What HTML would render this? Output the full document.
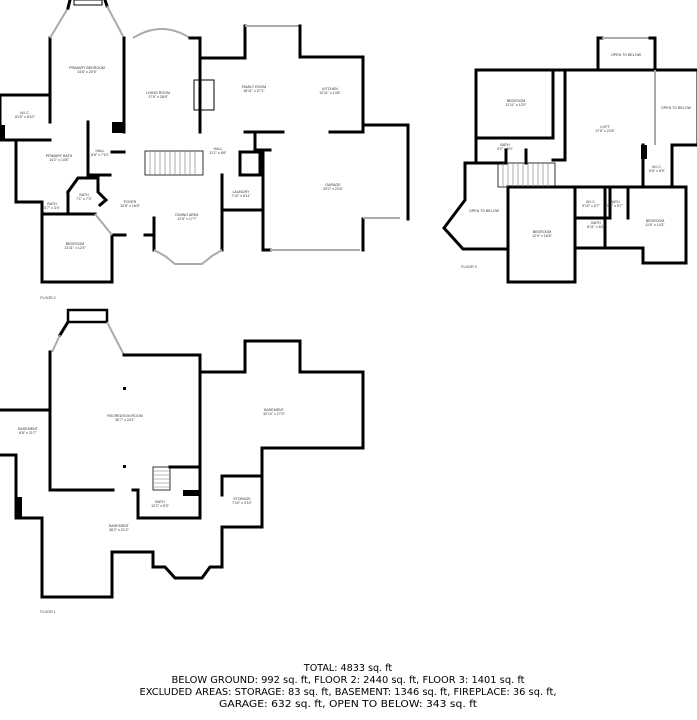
<!DOCTYPE html>
<html><head><meta charset="utf-8"><style>
html,body{margin:0;padding:0;background:#fff;}
svg{display:block;}
.w{fill:none;stroke:#000;stroke-width:3;stroke-linecap:square;stroke-linejoin:miter;}
.t{fill:none;stroke:#000;stroke-width:1.5;}
.g{fill:none;stroke:#aaa;stroke-width:2;}
.s{fill:none;stroke:#777;stroke-width:0.6;}
.l{font-family:"Liberation Sans",sans-serif;font-size:3.6px;fill:#333;text-anchor:middle;}
.b{font-family:"DejaVu Sans","Liberation Sans",sans-serif;font-size:9.6px;fill:#000;text-anchor:middle;}
</style></head><body>
<svg width="697" height="720" viewBox="0 0 697 720" xmlns="http://www.w3.org/2000/svg">
<!-- FLOOR 2 -->
<g>
<polyline class="w" points="50,122 50,38"/>
<polyline class="g" points="50,38 68,8"/>
<polyline class="w" points="68,8 70,0"/>
<polyline class="w" points="105,0 107,6"/>
<polyline class="g" points="107,6 123,36"/>
<rect x="74" y="0" width="28" height="5" fill="none" stroke="#000" stroke-width="1"/>
<polyline class="w" points="124,38 124,132"/>
<rect x="112" y="122" width="13" height="11" fill="#000"/>
<path class="g" d="M133,38 Q162,20 190,38"/>
<polyline class="w" points="190,38 200,38 200,132"/>
<rect x="194" y="80" width="20" height="30" fill="none" stroke="#000" stroke-width="1"/>
<polyline class="w" points="200,58 245,58 245,26"/>
<polyline class="g" points="245,26 300,26"/>
<polyline class="w" points="300,26 300,57 363,57 363,132 330,132"/>
<polyline class="w" points="200,132 200,118"/>
<polyline class="w" points="245,132 283,132"/>
<polyline class="w" points="363,125 408,125 408,219"/>
<polyline class="w" points="363,219 363,250"/>
<polyline class="g" points="363,218 400,218"/>
<polyline class="w" points="263,250 270,250"/>
<polyline class="g" points="270,250 360,250"/>
<polyline class="w" points="263,150 263,250"/>
<polyline class="w" points="255,132 255,150 270,150"/>
<polyline class="w" points="240,152 260,152 260,175 240,175 240,152"/>
<polyline class="w" points="222,175 222,250"/>
<polyline class="w" points="222,210 262,210"/>
<!-- left side -->
<polyline class="w" points="0,95 50,95"/>
<polyline class="w" points="0,95 0,140 50,140"/>
<rect x="0" y="125" width="5" height="15" fill="#000"/>
<polyline class="w" points="16,140 16,202 42,202"/>
<polyline class="w" points="88,122 88,175"/>
<polyline class="w" points="88,175 110,175"/>
<polyline class="w" points="68,192 78,178 98,178 98,192 106,200 100,205"/>
<polyline class="w" points="68,192 68,214"/>
<polyline class="w" points="42,202 42,282 112,282 112,235"/>
<polyline class="w" points="42,214 95,214"/>
<polyline class="g" points="95,214 112,235"/>
<polyline class="w" points="112,152 124,152"/>
<polyline class="w" points="115,235 125,235"/>
<polyline class="w" points="145,235 154,235"/>
<polyline class="w" points="154,218 154,250"/>
<polyline class="g" points="154,250 165,256 175,264 202,264 212,256 222,250"/>
<!-- stairs -->
<rect x="145" y="151" width="58" height="24" fill="none" stroke="#000" stroke-width="0.8"/>
<path class="s" d="M150,151v24M155,151v24M160,151v24M165,151v24M170,151v24M175,151v24M180,151v24M185,151v24M190,151v24M195,151v24"/>
<text class="l" x="87" y="69">PRIMARY BEDROOM</text><text class="l" x="87" y="73">14'8" x 20'5"</text>
<text class="l" x="158" y="94">LIVING ROOM</text><text class="l" x="158" y="98">17'6" x 28'8"</text>
<text class="l" x="254" y="88">FAMILY ROOM</text><text class="l" x="254" y="92">18'11" x 27'1"</text>
<text class="l" x="330" y="90">KITCHEN</text><text class="l" x="330" y="94">12'11" x 14'8"</text>
<text class="l" x="25" y="114">W.I.C.</text><text class="l" x="25" y="118">8'10" x 8'10"</text>
<text class="l" x="59" y="157">PRIMARY BATH</text><text class="l" x="59" y="161">14'2" x 14'8"</text>
<text class="l" x="100" y="152">HALL</text><text class="l" x="100" y="156">6'6" x 7'10"</text>
<text class="l" x="218" y="150">HALL</text><text class="l" x="218" y="154">11'1" x 6'6"</text>
<text class="l" x="84" y="196">BATH</text><text class="l" x="84" y="200">7'1" x 7'3"</text>
<text class="l" x="52" y="205">BATH</text><text class="l" x="52" y="209">5'7" x 3'4"</text>
<text class="l" x="130" y="203">FOYER</text><text class="l" x="130" y="207">12'6" x 16'8"</text>
<text class="l" x="187" y="216">DINING AREA</text><text class="l" x="187" y="220">12'8" x 17'7"</text>
<text class="l" x="241" y="193">LAUNDRY</text><text class="l" x="241" y="197">7'10" x 6'11"</text>
<text class="l" x="333" y="186">GARAGE</text><text class="l" x="333" y="190">29'2" x 23'6"</text>
<text class="l" x="75" y="245">BEDROOM</text><text class="l" x="75" y="249">13'11" x 12'3"</text>
<text class="l" x="48" y="299">FLOOR 2</text>
</g>
<!-- FLOOR 3 -->
<g>
<polyline class="w" points="598,70 598,38 602,38"/>
<polyline class="g" points="602,38 650,38"/>
<polyline class="w" points="650,38 655,38 655,70"/>
<polyline class="w" points="476,163 476,70 698,70 698,145 672,145"/>
<polyline class="g" points="655,70 655,145"/>
<polyline class="w" points="476,138 553,138 553,70"/>
<polyline class="w" points="565,70 565,160 553,160"/>
<polyline class="w" points="643,145 643,187 672,187 672,145"/>
<rect x="641" y="145" width="6" height="14" fill="#000"/>
<polyline class="w" points="672,187 686,187 686,263 643,263 643,248 575,248 575,282 508,282 508,187 575,187 575,248"/>
<polyline class="w" points="575,187 610,187 610,218 575,218"/>
<polyline class="w" points="605,187 605,248"/>
<polyline class="w" points="610,187 628,187 628,218"/>
<polyline class="w" points="628,187 643,187"/>
<polyline class="w" points="476,163 465,163 465,200 444,228 463,249 508,249"/>
<polyline class="w" points="506,150 506,163 476,163"/>
<polyline class="w" points="526,163 526,150"/>
<rect x="498" y="163" width="57" height="24" fill="none" stroke="#000" stroke-width="0.8"/>
<path class="s" d="M503,163v24M508,163v24M513,163v24M518,163v24M523,163v24M528,163v24M533,163v24M538,163v24M543,163v24M548,163v24"/>
<text class="l" x="516" y="102">BEDROOM</text><text class="l" x="516" y="106">11'11" x 12'0"</text>
<text class="l" x="505" y="146">BATH</text><text class="l" x="505" y="150">9'2" x 5'0"</text>
<text class="l" x="605" y="128">LOFT</text><text class="l" x="605" y="132">17'8" x 23'6"</text>
<text class="l" x="626" y="56">OPEN TO BELOW</text>
<text class="l" x="676" y="109">OPEN TO BELOW</text>
<text class="l" x="657" y="168">W.I.C.</text><text class="l" x="657" y="172">5'8" x 8'5"</text>
<text class="l" x="591" y="203">W.I.C.</text><text class="l" x="591" y="207">5'10" x 5'7"</text>
<text class="l" x="615" y="203">BATH</text><text class="l" x="615" y="207">5'8" x 5'7"</text>
<text class="l" x="596" y="224">BATH</text><text class="l" x="596" y="228">8'11" x 6'2"</text>
<text class="l" x="655" y="222">BEDROOM</text><text class="l" x="655" y="226">11'8" x 14'3"</text>
<text class="l" x="542" y="233">BEDROOM</text><text class="l" x="542" y="237">12'0" x 18'8"</text>
<text class="l" x="484" y="212">OPEN TO BELOW</text>
<text class="l" x="469" y="268">FLOOR 3</text>
</g>
<!-- FLOOR 1 -->
<g>
<rect x="68" y="310" width="39" height="12" fill="none" stroke="#000" stroke-width="2.5"/>
<polyline class="w" points="68,322 60,335"/>
<polyline class="g" points="60,335 52,352"/>
<polyline class="w" points="50,352 50,490 113,490"/>
<polyline class="g" points="107,322 124,355"/>
<polyline class="w" points="124,355 200,355 200,372"/>
<polyline class="w" points="200,372 245,372 245,341 300,341 300,372 363,372 363,448 262,448 262,527 222,527 222,567 210,567 202,578 175,578 165,567 153,567 153,552 112,552 112,597 42,597 42,518 16,518 16,455 0,455"/>
<polyline class="w" points="0,410 50,410"/>
<rect x="16" y="497" width="6" height="20" fill="#000"/>
<polyline class="w" points="200,372 200,518"/>
<polyline class="w" points="222,476 262,476"/>
<polyline class="w" points="222,476 222,495"/>
<polyline class="w" points="133,490 138,490 138,518 200,518"/>
<polyline class="w" points="170,467 200,467"/>
<rect x="183" y="490" width="17" height="6" fill="#000"/>
<rect x="153" y="467" width="17" height="23" fill="none" stroke="#000" stroke-width="0.8"/>
<path class="s" d="M153,471h17M153,475h17M153,479h17M153,483h17M153,487h17"/>
<rect x="123" y="387" width="3" height="3" fill="#000"/>
<rect x="123" y="465" width="3" height="3" fill="#000"/>
<text class="l" x="125" y="417">RECREATION ROOM</text><text class="l" x="125" y="421">30'7" x 24'1"</text>
<text class="l" x="274" y="411">BASEMENT</text><text class="l" x="274" y="415">32'10" x 27'0"</text>
<text class="l" x="28" y="430">BASEMENT</text><text class="l" x="28" y="434">8'8" x 21'7"</text>
<text class="l" x="160" y="503">BATH</text><text class="l" x="160" y="507">12'2" x 5'3"</text>
<text class="l" x="242" y="500">STORAGE</text><text class="l" x="242" y="504">7'10" x 9'10"</text>
<text class="l" x="119" y="527">BASEMENT</text><text class="l" x="119" y="531">36'2" x 21'2"</text>
<text class="l" x="48" y="613">FLOOR 1</text>
</g>
<text class="b" x="348" y="671">TOTAL: 4833 sq. ft</text>
<text class="b" x="348" y="683" textLength="353" lengthAdjust="spacingAndGlyphs">BELOW GROUND: 992 sq. ft, FLOOR 2: 2440 sq. ft, FLOOR 3: 1401 sq. ft</text>
<text class="b" x="348" y="695" textLength="417" lengthAdjust="spacingAndGlyphs">EXCLUDED AREAS: STORAGE: 83 sq. ft, BASEMENT: 1346 sq. ft, FIREPLACE: 36 sq. ft,</text>
<text class="b" x="348" y="707" textLength="258" lengthAdjust="spacingAndGlyphs">GARAGE: 632 sq. ft, OPEN TO BELOW: 343 sq. ft</text>
</svg>
</body></html>
